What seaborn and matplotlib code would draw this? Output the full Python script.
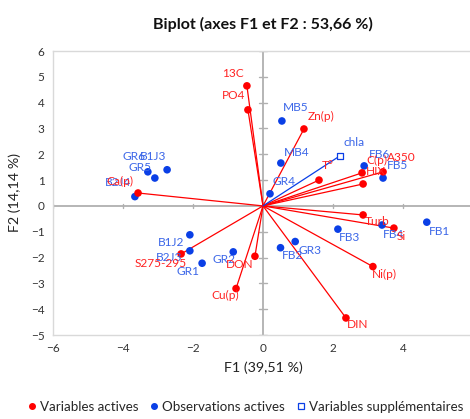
import numpy as np
import pandas as pd
import matplotlib
matplotlib.use("Agg")
import matplotlib.pyplot as plt
import seaborn as sns

# Active variables (loadings on F1/F2)
var_names = ["13C", "PO4", "Zn(p)", "T°", "C(p)", "A350", "HIX", "Turb", "Si",
             "Ni(p)", "DIN", "Cu(p)", "DON", "S275-295", "Ca(p)"]
var_f1 = [-0.46, -0.43, 1.17, 1.60, 2.83, 3.43, 2.86, 2.86, 3.74,
          3.14, 2.37, -0.77, -0.23, -2.34, -3.57]
var_f2 = [4.65, 3.72, 2.98, 1.00, 1.28, 1.32, 0.85, -0.35, -0.86,
          -2.35, -4.34, -3.20, -1.95, -1.86, 0.50]
var_off = [(-14, -12), (-14, -14), (17, -12), (9, -15), (15, -12), (18, -14), (13, -12),
           (14, 7), (7, 8), (11, 8), (12, 7), (-11, 7), (-15, 8), (-20, 10), (-18, -12)]

# Active observations (scores on F1/F2)
obs_names = ["MB5", "MB4", "GR4", "FB6", "FB5", "FB4", "FB1", "FB3", "GR3", "FB2",
             "GR2", "GR1", "B2J3", "B1J2", "GR5", "B1J3", "GR6", "B2J4"]
obs_f1 = [0.54, 0.51, 0.20, 2.89, 3.43, 3.40, 4.68, 2.14, 0.92, 0.50,
          -0.85, -1.74, -2.09, -2.09, -3.09, -2.74, -3.29, -3.66]
obs_f2 = [3.29, 1.66, 0.47, 1.55, 1.08, -0.74, -0.63, -0.90, -1.38, -1.62,
          -1.78, -2.22, -1.74, -1.12, 1.08, 1.40, 1.32, 0.36]
obs_off = [(14, -13), (16, -11), (14, -12), (15, -11), (14, -13), (11, 9), (13, 9),
           (12, 8), (15, 9), (12, 8), (-9, 8), (-14, 8), (-21, 7), (-19, 8),
           (-15, -11), (-14, -13), (-14, -15), (-17, -14)]

# Supplementary variable
sup_names = ["chla"]
sup_f1 = [2.20]
sup_f2 = [1.94]
sup_off = [(14, -13)]

x_ticks = [-6, -4, -2, 0, 2, 4, 6]
y_ticks = [-5, -4, -3, -2, -1, 0, 1, 2, 3, 4, 5, 6]

RED = "#ff0000"
BLUE = "#0a3fe6"
BLUE_TXT = "#3b66e8"
FONT = "Lato"

sns.set_theme(style="white")
plt.rcParams["font.family"] = [FONT, "DejaVu Sans"]

fig = plt.figure(figsize=(4.70, 4.19), dpi=100)
ax = fig.add_axes([53 / 470, 84 / 419, 420 / 470, 284 / 419])

ax.set_xlim(-6, 6)
ax.set_ylim(-5, 6)
ax.set_xticks(x_ticks)
ax.set_yticks(y_ticks)
ax.tick_params(length=0, labelsize=8.5, colors="#333333", pad=6)

for side in ["left", "top", "bottom", "right"]:
    ax.spines[side].set_color("#d9d9d9")
    ax.spines[side].set_linewidth(1.0)

# Zero axes with their own tick marks
ax.axhline(0, color="#b0b0b0", lw=1.3, zorder=1)
ax.axvline(0, color="#b0b0b0", lw=1.3, zorder=1)
tlx = 0.09
tly = 0.12
for yt in y_ticks:
    ax.plot([-tly, tly], [yt, yt], color="#b0b0b0", lw=1.0, zorder=1)
for xt in x_ticks:
    ax.plot([xt, xt], [-tlx, tlx], color="#b0b0b0", lw=1.0, zorder=1)

# Vectors from the origin
for x, y in zip(var_f1, var_f2):
    ax.plot([0, x], [0, y], color=RED, lw=0.9, zorder=2)
for x, y in zip(sup_f1, sup_f2):
    ax.plot([0, x], [0, y], color=BLUE, lw=0.9, zorder=2)

obs_df = pd.DataFrame({"F1": obs_f1, "F2": obs_f2})
var_df = pd.DataFrame({"F1": var_f1, "F2": var_f2})
sup_df = pd.DataFrame({"F1": sup_f1, "F2": sup_f2})

sns.scatterplot(data=obs_df, x="F1", y="F2", color=BLUE, s=30, edgecolor="none",
                ax=ax, zorder=3, legend=False)
sns.scatterplot(data=var_df, x="F1", y="F2", color=RED, s=30, edgecolor="none",
                ax=ax, zorder=4, legend=False)
sns.scatterplot(data=sup_df, x="F1", y="F2", marker="s", s=22, facecolor="white",
                edgecolor=BLUE, linewidth=0.9, ax=ax, zorder=4, legend=False)

def put_labels(names, xs, ys, offs, color):
    for n, x, y, (dx, dy) in zip(names, xs, ys, offs):
        ax.annotate(n, (x, y), xytext=(dx, -dy), textcoords="offset pixels",
                    ha="center", va="center", fontsize=8.6, color=color, zorder=5)

put_labels(obs_names, obs_f1, obs_f2, obs_off, BLUE_TXT)
put_labels(var_names, var_f1, var_f2, var_off, "#ff2222")
put_labels(sup_names, sup_f1, sup_f2, sup_off, BLUE_TXT)

ax.set_xlabel("F1 (39,51 %)", fontsize=10.3, color="#222222", labelpad=5)
ax.set_ylabel("F2 (14,14 %)", fontsize=10.3, color="#222222", labelpad=7)
ax.set_title("Biplot (axes F1 et F2 : 53,66 %)", fontsize=11.5, fontweight="bold",
             color="#111111", pad=16)

handles = [
    plt.Line2D([], [], ls="none", marker="o", ms=4, color=RED),
    plt.Line2D([], [], ls="none", marker="o", ms=4, color=BLUE),
    plt.Line2D([], [], ls="none", marker="s", ms=4, mfc="white", mec=BLUE, mew=0.9),
]
labels = ["Variables actives", "Observations actives", "Variables supplémentaires"]
fig.legend(handles, labels, loc="center", bbox_to_anchor=(0.52, 0.029), ncol=3,
           frameon=False, fontsize=9.6, handletextpad=0.1, columnspacing=0.7,
           handlelength=1.0)

fig.savefig("out.png", dpi=100)
